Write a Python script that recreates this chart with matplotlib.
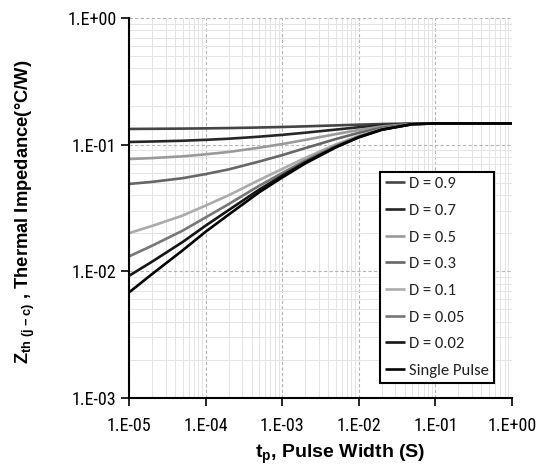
import matplotlib
matplotlib.use("Agg")
import matplotlib.pyplot as plt
from matplotlib.ticker import FixedLocator, FixedFormatter, LogLocator, NullFormatter

plt.rcParams["font.family"] = ["Liberation Sans", "DejaVu Sans"]
plt.rcParams["mathtext.fontset"] = "custom"
plt.rcParams["mathtext.bf"] = "Liberation Sans:bold"
plt.rcParams["mathtext.rm"] = "Liberation Sans:bold"
plt.rcParams["mathtext.default"] = "bf"

# --- Data ---
pulse_width = [1e-5, 2e-5, 5e-5, 1e-4, 2e-4, 5e-4, 1e-3, 2e-3, 5e-3, 1e-2, 2e-2, 5e-2, 1e-1, 1.0]

z_d09 = [0.1330, 0.1333, 0.1338, 0.1344, 0.1351, 0.1365, 0.1378, 0.1394, 0.1418, 0.1437, 0.1454, 0.1468, 0.147, 0.147]
z_d07 = [0.1049, 0.1058, 0.1073, 0.1091, 0.1113, 0.1155, 0.1194, 0.1242, 0.1314, 0.1371, 0.1422, 0.1464, 0.147, 0.147]
z_d05 = [0.0769, 0.0783, 0.0808, 0.0838, 0.0875, 0.0945, 0.1010, 0.1090, 0.1210, 0.1305, 0.1390, 0.1460, 0.147, 0.147]
z_d03 = [0.0489, 0.0508, 0.0543, 0.0585, 0.0637, 0.0735, 0.0826, 0.0938, 0.1106, 0.1239, 0.1358, 0.1456, 0.147, 0.147]
z_d01 = [0.0200, 0.0228, 0.0275, 0.0330, 0.0398, 0.0525, 0.0642, 0.0786, 0.1002, 0.1173, 0.1326, 0.1452, 0.147, 0.147]
z_d005 = [0.0131, 0.0159, 0.0209, 0.0266, 0.0339, 0.0473, 0.0596, 0.0748, 0.0976, 0.1157, 0.1318, 0.1451, 0.147, 0.147]
z_d002 = [0.0092, 0.0119, 0.0170, 0.0229, 0.0304, 0.0441, 0.0569, 0.0725, 0.0960, 0.1147, 0.1313, 0.1450, 0.147, 0.147]
z_single = [0.0068, 0.0095, 0.0146, 0.0205, 0.0280, 0.0420, 0.0550, 0.0710, 0.0950, 0.1140, 0.1310, 0.1450, 0.147, 0.147]

series_labels = ["D = 0.9", "D = 0.7", "D = 0.5", "D = 0.3", "D = 0.1", "D = 0.05", "D = 0.02", "Single Pulse"]
series_values = [z_d09, z_d07, z_d05, z_d03, z_d01, z_d005, z_d002, z_single]
series_colors = ["#454545", "#262626", "#9a9a9a", "#666666", "#ababab", "#777777", "#151515", "#050505"]

x_ticks = [1e-5, 1e-4, 1e-3, 1e-2, 1e-1, 1.0]
x_tick_labels = ["1.E-05", "1.E-04", "1.E-03", "1.E-02", "1.E-01", "1.E+00"]
y_ticks = [1e-3, 1e-2, 1e-1, 1.0]
y_tick_labels = ["1.E-03", "1.E-02", "1.E-01", "1.E+00"]

fig = plt.figure(figsize=(5.42, 4.67), dpi=100)
ax = fig.add_axes([0.238, 0.148, 0.7066, 0.8135])

for vals, lab, col in zip(series_values, series_labels, series_colors):
    ax.plot(pulse_width, vals, color=col, linewidth=1.9, label=lab, solid_capstyle="butt")

ax.set_xscale("log")
ax.set_yscale("log")
ax.set_xlim(1e-5, 1.0)
ax.set_ylim(1e-3, 1.0)

ax.xaxis.set_major_locator(FixedLocator(x_ticks))
ax.xaxis.set_major_formatter(FixedFormatter(x_tick_labels))
ax.yaxis.set_major_locator(FixedLocator(y_ticks))
ax.yaxis.set_major_formatter(FixedFormatter(y_tick_labels))
for axis in (ax.xaxis, ax.yaxis):
    axis.set_minor_locator(LogLocator(base=10, subs=range(2, 10), numticks=20))
    axis.set_minor_formatter(NullFormatter())

ax.grid(True, which="major", color="#b4b4b4", linestyle=(0, (3, 2)), linewidth=0.8)
ax.grid(True, which="minor", color="#e4e4e4", linestyle="-", linewidth=0.7)
ax.set_axisbelow(True)

for side in ("top", "right"):
    ax.spines[side].set_visible(False)
for side in ("left", "bottom"):
    ax.spines[side].set_linewidth(1.5)
    ax.spines[side].set_color("black")

ax.tick_params(which="major", direction="out", length=5.5, width=1.2)
ax.tick_params(axis="x", which="major", pad=8)
ax.tick_params(axis="y", which="major", pad=3.5)
ax.tick_params(which="minor", length=0)
for lbl in ax.get_xticklabels() + ax.get_yticklabels():
    lbl.set_fontfamily(["Roboto Condensed", "Liberation Sans"])
    lbl.set_fontsize(13)

ax.set_xlabel(r"$t_p$, Pulse Width (S)", fontsize=14, fontweight="bold")
ax.xaxis.set_label_coords(0.551, -0.118)
ax.set_ylabel(r"$Z_{th\ (j-c)}$ , Thermal Impedance(°C/W)", fontsize=13.2, fontweight="bold")
ax.yaxis.set_label_coords(-0.24, 0.49)

# legend box sits flush at (494, 383) px like the original
leg = ax.legend(loc="lower right", bbox_to_anchor=(0.953, 0.0395), borderaxespad=0,
                prop={"family": ["Carlito", "Liberation Sans"], "size": 12},
                handlelength=1.2, handletextpad=0.25, labelspacing=0.72, borderpad=0.3,
                fancybox=False, framealpha=1, edgecolor="black")
leg.get_frame().set_linewidth(1.5)
for t in leg.get_texts():
    t.set_color("#222222")

fig.savefig("out.png", dpi=100, facecolor="white")
